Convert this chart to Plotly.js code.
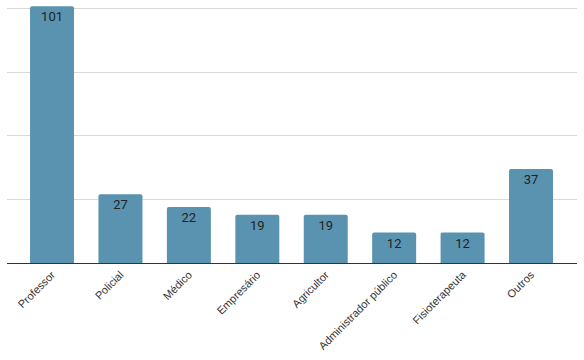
<!DOCTYPE html>
<html>
<head>
<meta charset="utf-8">
<script src="https://cdn.plot.ly/plotly-3.0.1.min.js"></script>
<style>html,body{margin:0;padding:0;background:#fff;}#chart{width:584px;height:360px;}</style>
</head>
<body>
<div id="chart"></div>
<script>
const categories = ["Professor", "Policial", "Médico", "Empresário", "Agricultor", "Administrador público", "Fisioterapeuta", "Outros"];
const values = [101, 27, 22, 19, 19, 12, 12, 37];

const trace = {
  type: "bar",
  x: categories,
  y: values,
  text: values.map(String),
  textposition: "inside",
  insidetextanchor: "end",
  textangle: 0,
  textfont: {family: "Roboto, Liberation Sans, Arial, sans-serif", size: 13, color: "#222"},
  marker: {color: "#5a93b0"},
  width: 0.643,
  hoverinfo: "none"
};

const layout = {
  width: 584, height: 360,
  margin: {l: 7, r: 7, t: 5, b: 97},
  paper_bgcolor: "#fff", plot_bgcolor: "#fff",
  showlegend: false,
  barcornerradius: 2,
  xaxis: {
    type: "category",
    range: [-0.658, 7.672],
    tickangle: -45,
    ticks: "",
    tickfont: {family: "Liberation Sans, Arial, sans-serif", size: 11, color: "#333"},
    showline: true, linecolor: "#333", linewidth: 1,
    showgrid: false, zeroline: false
  },
  yaxis: {
    range: [0, 101.5],
    dtick: 25,
    showticklabels: false,
    ticks: "",
    showgrid: true, gridcolor: "#d9d9d9", gridwidth: 1,
    zeroline: false, showline: false
  }
};

Plotly.newPlot("chart", [trace], layout, {displayModeBar: false, staticPlot: true});
</script>
</body>
</html>
